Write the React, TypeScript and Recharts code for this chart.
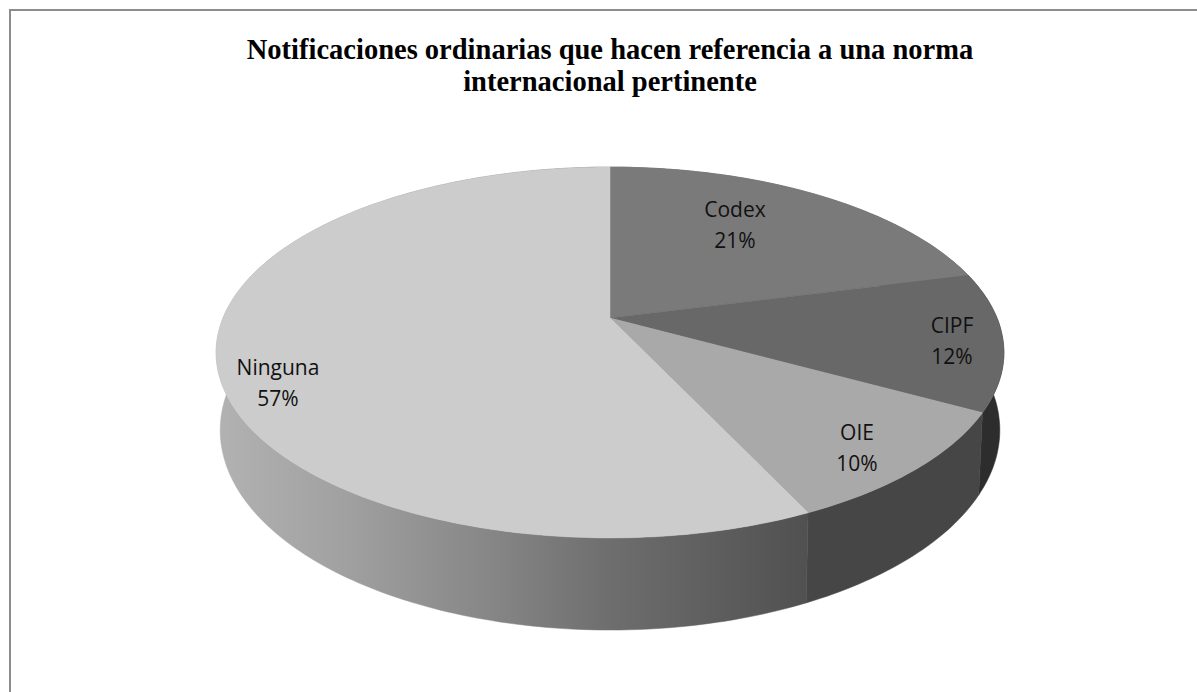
import { PieChart, Pie, Customized } from "recharts";

// values, clockwise from 12 o'clock
const categories = ["Codex", "CIPF", "OIE", "Ninguna"];
const shares = [21, 12, 10, 57];
const titleLines = [
    "Notificaciones ordinarias que hacen referencia a una norma",
    "internacional pertinente",
];

const topColors = ["#7a7a7a", "#686868", "#a9a9a9", "#cccccc"];
const wallColors = ["#5a5a5a", "#2d2d2d", "#464646", "url(#ningunaWall)"];
// centre x and first baseline of each two line label
const labelSpots = [
    [735, 217],
    [952, 333],
    [857, 440],
    [278, 375],
];

const pieData = categories.map((name, i) => ({
    name,
    value: shares[i],
    index: i,
}));

const CX = 610;
const CY = 318;
// tilt of the fake 3D disc
const HALF_WIDTH = 387;
const HALF_HEIGHT = 179;
const PERSPECTIVE = 0.186;
const WALL_WIDTH = 383;
const WALL_DEPTH = 75;

// recharts angle (counter clockwise from east) to a point on the tilted disc
function rimPoint(angle: number, wall: boolean) {
    const rad = (angle * Math.PI) / 180;
    const c = Math.sin(rad);
    const s = Math.cos(rad);
    const d = 1 + PERSPECTIVE * c;
    const width = wall ? WALL_WIDTH : HALF_WIDTH;
    const drop = wall ? WALL_DEPTH / d : 0;
    return [CX + (width * s) / d, CY - (HALF_HEIGHT * c) / d + drop];
}

function arcPoints(start: number, end: number, wall: boolean) {
    const steps = Math.max(2, Math.ceil(Math.abs(end - start)));
    const pts: number[][] = [];
    for (let i = 0; i <= steps; i++) {
        pts.push(rimPoint(start + ((end - start) * i) / steps, wall));
    }
    return pts;
}

const toPath = (pts: number[][]) =>
    pts.map((p, i) => `${i ? "L" : "M"}${p[0].toFixed(1)},${p[1].toFixed(1)}`).join(" ");

function TopSlice(props: any) {
    const pts = arcPoints(props.startAngle, props.endAngle, false);
    const color = topColors[props.index];
    return <path d={`${toPath(pts)} L${CX},${CY} Z`} fill={color} stroke={color} strokeWidth={0.5} />;
}

function WallSlice(props: any) {
    const upper = arcPoints(props.startAngle, props.endAngle, false);
    const lower = arcPoints(props.startAngle, props.endAngle, true).reverse();
    const color = wallColors[props.index];
    return <path d={`${toPath(upper.concat(lower))} Z`} fill={color} stroke={color} strokeWidth={0.5} />;
}

function SliceLabel(props: any) {
    const i = props.index;
    const [x, y] = labelSpots[i];
    return (
        <text x={x} textAnchor="middle" fontFamily="'Open Sans', sans-serif" fontSize={21} fill="#111">
            <tspan x={x} y={y}>{categories[i]}</tspan>
            <tspan x={x} y={y + 31}>{shares[i]}%</tspan>
        </text>
    );
}

function Title() {
    return (
        <text textAnchor="middle" fontFamily="'Liberation Serif', serif" fontWeight="bold" fontSize={28.5} fill="#000">
            <tspan x={610} y={59}>{titleLines[0]}</tspan>
            <tspan x={610} y={91}>{titleLines[1]}</tspan>
        </text>
    );
}

function Frame() {
    return (
        <path d="M1197,10 H10 V692" fill="none" stroke="#8c8c8c" strokeWidth={2} />
    );
}

// faint scan seam that crosses the disc in the source image
function Seam() {
    return <line x1={218} x2={1004} y1={332} y2={332} stroke="#ffffff" strokeOpacity={0.14} />;
}

export default function App() {
    return (
        <div style={{ position: "absolute", left: 0, top: 0, width: 1197, height: 692, background: "#fff" }}>
            <PieChart width={1197} height={692} margin={{ top: 0, right: 0, bottom: 0, left: 0 }}>
                <defs>
                    <linearGradient id="ningunaWall" gradientUnits="userSpaceOnUse" x1={218} y1={0} x2={810} y2={0}>
                        <stop offset="0%" stopColor="#b2b2b2" />
                        <stop offset="22%" stopColor="#a0a0a0" />
                        <stop offset="47%" stopColor="#858585" />
                        <stop offset="66%" stopColor="#6e6e6e" />
                        <stop offset="100%" stopColor="#505050" />
                    </linearGradient>
                </defs>
                <Customized component={Frame} />
                <Customized component={Title} />
                <Pie
                    data={pieData}
                    dataKey="value"
                    cx={CX}
                    cy={CY}
                    outerRadius={100}
                    startAngle={90}
                    endAngle={-270}
                    stroke="none"
                    shape={WallSlice}
                    isAnimationActive={false}
                />
                <Pie
                    data={pieData}
                    dataKey="value"
                    cx={CX}
                    cy={CY}
                    outerRadius={100}
                    startAngle={90}
                    endAngle={-270}
                    stroke="none"
                    shape={TopSlice}
                    label={SliceLabel}
                    labelLine={false}
                    isAnimationActive={false}
                />
                <Customized component={Seam} />
            </PieChart>
        </div>
    );
}
